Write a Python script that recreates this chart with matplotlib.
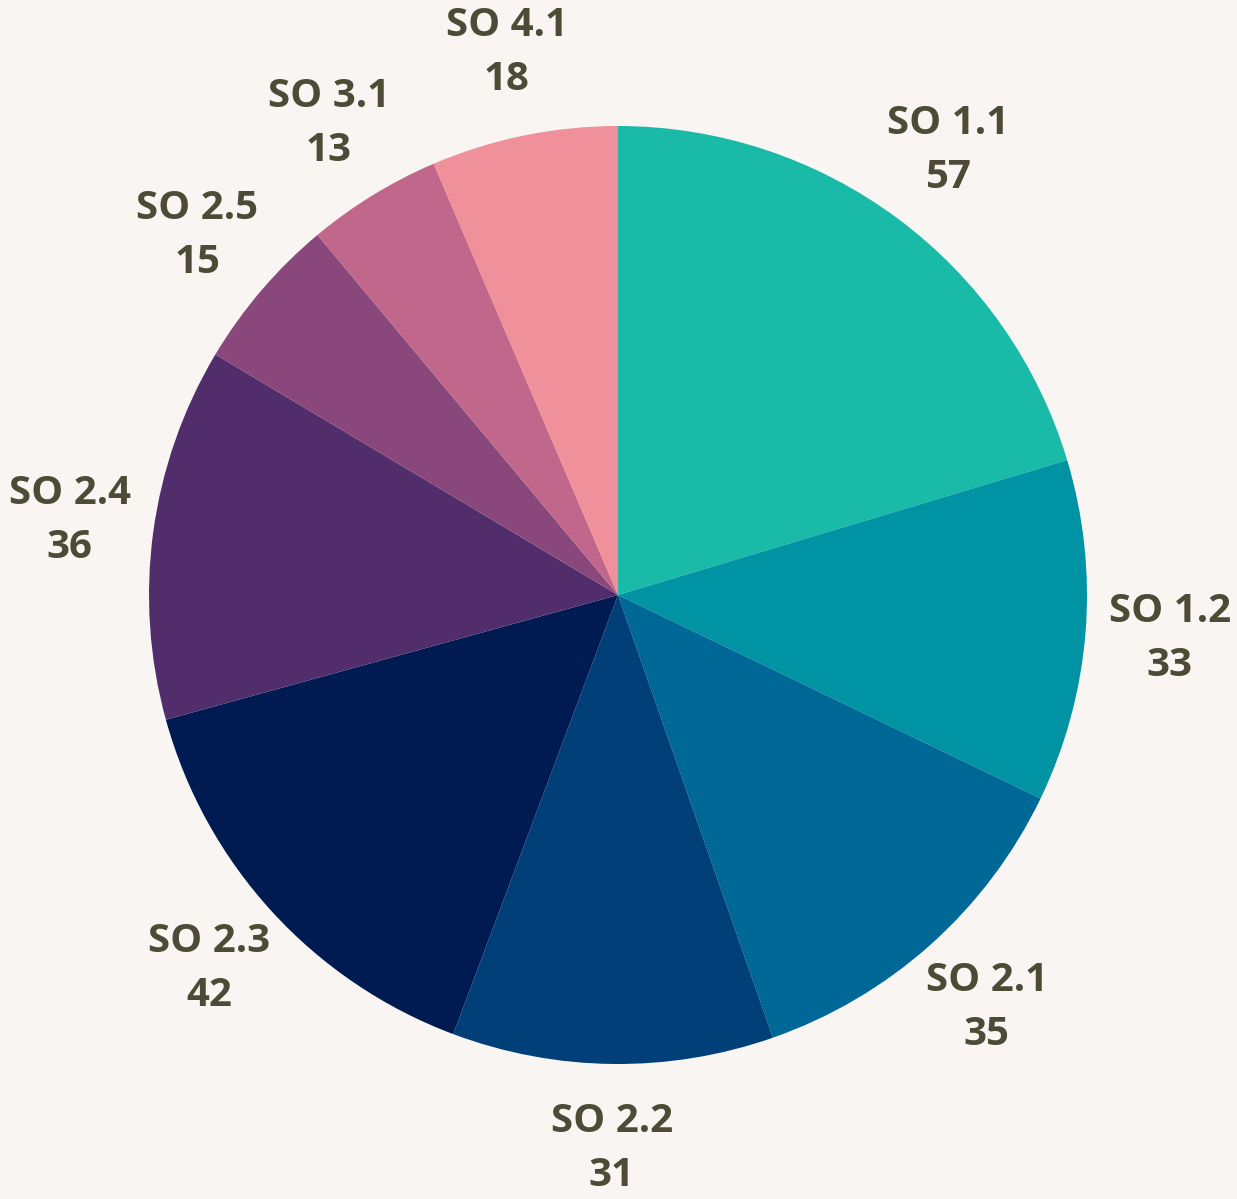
import matplotlib
matplotlib.use("Agg")
import matplotlib.pyplot as plt

labels = ["SO 1.1", "SO 1.2", "SO 2.1", "SO 2.2", "SO 2.3", "SO 2.4", "SO 2.5", "SO 3.1", "SO 4.1"]
values = [57, 33, 35, 31, 42, 36, 15, 13, 18]
colors = ["#1abaa8", "#0093a4", "#006896", "#003f78", "#001a52",
          "#512e6b", "#8a477b", "#c0678b", "#f0909a"]

bg = "#f8f5f2"
text_color = "#4d4a36"

fig = plt.figure(figsize=(12.37, 11.99), dpi=100, facecolor=bg)
ax = fig.add_axes([0, 0, 1, 1])
ax.set_facecolor(bg)

wedges, texts = ax.pie(
    values,
    labels=[f"{l}\n{v}" for l, v in zip(labels, values)],
    colors=colors,
    startangle=90,
    counterclock=False,
    center=(618, 604),
    radius=469,
    labeldistance=1.18,
    frame=True,
    textprops=dict(color=text_color, fontsize=29, fontweight="bold",
                   family="Open Sans", linespacing=1.5),
)
for t in texts:
    t.set_ha("center")
    t.set_va("center")

ax.set_xlim(0, 1237)
ax.set_ylim(0, 1199)
ax.set_aspect("equal")
ax.axis("off")

fig.savefig("out.png", dpi=100, facecolor=bg)
